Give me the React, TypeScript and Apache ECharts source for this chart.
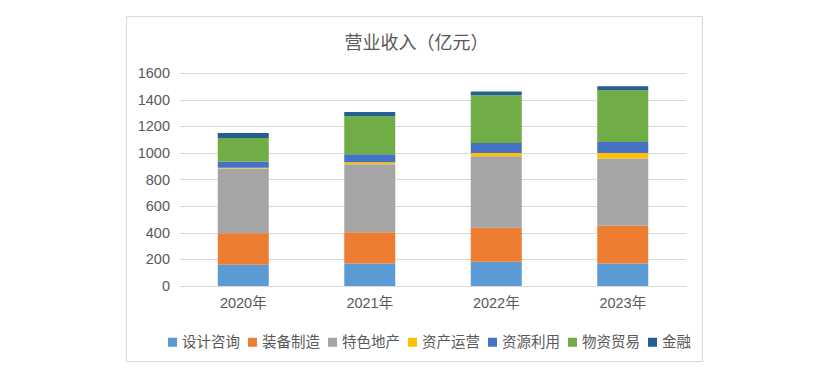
import React, { useEffect, useRef } from "react";
import * as echarts from "echarts";

const categories = ["2020年", "2021年", "2022年", "2023年"];
const seriesNames = ["设计咨询", "装备制造", "特色地产", "资产运营", "资源利用", "物资贸易", "金融"];
const design = [160, 170, 183, 170];
const equipment = [236, 235, 255, 283];
const realEstate = [488, 511, 538, 506];
const assetOps = [6, 15, 25, 42];
const resources = [44, 60, 75, 83];
const trade = [180, 286, 358, 388];
const finance = [37, 32, 30, 30];
const yTicks = [0, 200, 400, 600, 800, 1000, 1200, 1400, 1600];

const colors = ["#5B9BD5", "#ED7D31", "#A5A5A5", "#FFC000", "#4472C4", "#70AD47", "#255E91"];
const FONT = "'Liberation Sans', 'Noto Sans CJK SC', sans-serif";

export default function App() {
  const ref = useRef<HTMLDivElement>(null);
  useEffect(() => {
    if (!ref.current) return;
    const chart = echarts.init(ref.current, null, { renderer: "svg" });
    const values = [design, equipment, realEstate, assetOps, resources, trade, finance];
    chart.setOption({
      animation: false,
      color: colors,
      textStyle: { fontFamily: FONT },
      graphic: [
        {
          type: "rect",
          z: -10,
          shape: { x: 126.5, y: 16.5, width: 576, height: 345 },
          style: { fill: "#fff", stroke: "#d9d9d9", lineWidth: 1 },
        },
      ],
      title: {
        text: "营业收入（亿元）",
        left: 411.5,
        textAlign: "center",
        top: 29,
        textStyle: { fontSize: 18, fontWeight: "normal", color: "#595959", fontFamily: FONT },
      },
      legend: {
        left: 163,
        top: 330,
        itemWidth: 9,
        itemHeight: 9,
        itemGap: 8,
        icon: "rect",
        textStyle: { fontSize: 14.5, color: "#595959", fontFamily: FONT },
        data: seriesNames,
      },
      grid: { left: 180, right: 133, top: 73.3, bottom: 88, containLabel: false },
      xAxis: {
        type: "category",
        data: categories,
        axisLine: { lineStyle: { color: "#d9d9d9" } },
        axisTick: { show: false },
        axisLabel: { fontSize: 14.5, color: "#595959", margin: 10, fontFamily: FONT },
      },
      yAxis: {
        type: "value",
        min: yTicks[0],
        max: yTicks[yTicks.length - 1],
        interval: 200,
        axisLine: { show: false },
        axisTick: { show: false },
        splitLine: { lineStyle: { color: "#d9d9d9" } },
        axisLabel: {
          fontSize: 14.5,
          color: "#595959",
          margin: 10,
          fontFamily: FONT,
          formatter: (v: number) => String(v),
        },
      },
      series: seriesNames.map((name, i) => ({
        name,
        type: "bar",
        stack: "total",
        barWidth: 51,
        data: values[i],
      })),
    });
    return () => chart.dispose();
  }, []);
  return (
    <div
      ref={ref}
      style={{ position: "absolute", left: 0, top: 0, width: 819, height: 374 }}
    />
  );
}
